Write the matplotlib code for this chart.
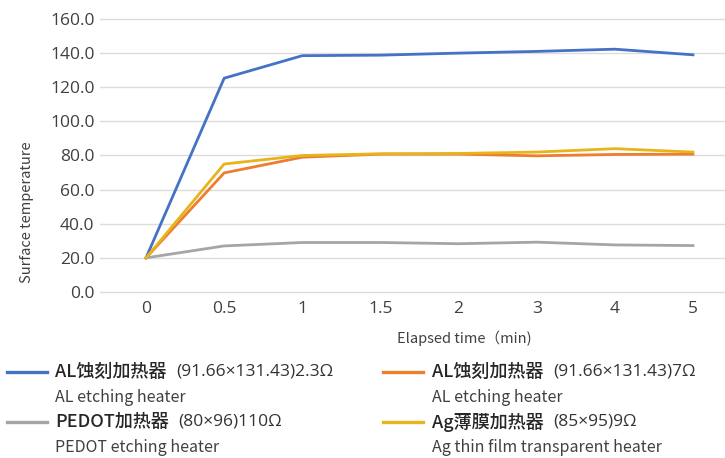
import matplotlib.pyplot as plt
from matplotlib.lines import Line2D

plt.rcParams['font.family'] = ['Noto Sans CJK JP', 'DejaVu Sans']

# data
times = ['0', '0.5', '1', '1.5', '2', '3', '4', '5']
al_23 = [20, 125.3, 138.5, 138.8, 140.0, 141.0, 142.3, 139.0]
al_7 = [20, 69.8, 79.0, 80.8, 80.8, 79.8, 80.6, 80.8]
pedot = [20, 27.0, 29.0, 29.0, 28.3, 29.2, 27.6, 27.2]
ag = [20, 75.0, 80.0, 81.0, 81.2, 82.0, 84.0, 82.0]

series_main = ['AL蚀刻加热器', 'AL蚀刻加热器', 'PEDOT加热器', 'Ag薄膜加热器']
series_spec = ['(91.66×131.43)2.3Ω', '(91.66×131.43)7Ω', '(80×96)110Ω', '(85×95)9Ω']
series_en = ['AL etching heater', 'AL etching heater', 'PEDOT etching heater',
             'Ag thin film transparent heater']
colors = ['#4472C4', '#ED7D31', '#A5A5A5', '#E8B41C']
yticks = [0, 20, 40, 60, 80, 100, 120, 140, 160]

latin = ['Open Sans', 'DejaVu Sans']

fig = plt.figure(figsize=(7.25, 4.58), dpi=100)
ax = fig.add_axes([100 / 725, 0.355, 625 / 725, 0.611])

xs = list(range(len(times)))
for vals, c in zip([al_23, al_7, pedot, ag], colors):
    ax.plot(xs, vals, color=c, lw=2.0, solid_joinstyle='round')

ax.set_xlim(-0.589, 7.41)
ax.set_ylim(-2, 162)
ax.set_xticks(xs)
ax.set_xticklabels(times)
ax.set_yticks(yticks)
ax.set_yticklabels(['%.1f' % v for v in yticks])
ax.tick_params(length=0, labelcolor='#404040', labelsize=12.5, labelfontfamily='Open Sans')
ax.tick_params(axis='y', pad=4)
ax.tick_params(axis='x', pad=4)
ax.grid(axis='y', color='#DCDCDC', lw=1.0)
ax.set_axisbelow(True)
for s in ax.spines.values():
    s.set_visible(False)

fig.text(27 / 725, (458 - 212) / 458, 'Surface temperature', rotation=90, ha='center',
         va='center', fontsize=10.5, color='#404040')
fig.text(464 / 725, (458 - 338) / 458, 'Elapsed time（min)', ha='center', va='center',
         fontsize=10.5, color='#404040')

# legend built by hand: two columns, two text lines each
line_x = [(7, 47), (383, 423)]
text_x = [55, 432]
row_y = [372, 422]
for i in range(4):
    col, row = i % 2, i // 2
    x0, x1 = line_x[col]
    yf = (458 - row_y[row]) / 458
    fig.add_artist(Line2D([x0 / 725, x1 / 725], [yf, yf], color=colors[i], lw=2.4,
                          transform=fig.transFigure))
    t = fig.text(text_x[col] / 725, yf, series_main[i], ha='left', va='center',
                 fontsize=13, color='#262626', fontweight='medium')
    ax.annotate(series_spec[i], xy=(1, 0.5), xycoords=t, xytext=(7, 0),
                textcoords='offset points', ha='left', va='center',
                fontsize=12.5, color='#333333', family=latin,
                annotation_clip=False)
    fig.text(text_x[col] / 725, yf - 26 / 458, series_en[i], ha='left', va='center',
             fontsize=11.5, color='#404040')

plt.savefig('out.png', dpi=100)
